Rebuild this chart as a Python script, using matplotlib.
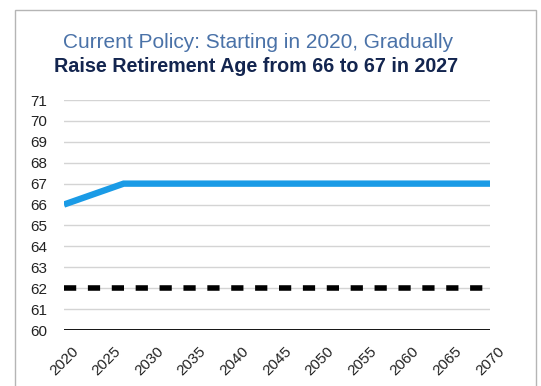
import matplotlib.pyplot as plt
from matplotlib.patches import Rectangle

# retirement age under current policy
policy_years = [2020, 2027, 2070]
policy_age = [66, 67, 67]

# early eligibility age
early_years = [2020, 2070]
early_age = [62, 62]

year_ticks = list(range(2020, 2071, 5))
age_ticks = list(range(60, 72))

plt.rcParams['font.family'] = ['Liberation Sans', 'DejaVu Sans']

fig = plt.figure(figsize=(5.41, 3.86), dpi=100)

# light frame around the whole chart
fig.patches.append(Rectangle((15 / 541, -0.05), (536 - 15) / 541, 1.05 - 10 / 386,
                             transform=fig.transFigure, fill=False,
                             edgecolor='#b5b5b5', linewidth=1.0))

ax = fig.add_axes([64 / 541, 1 - 330 / 386, (490 - 64) / 541, (330 - 100) / 386])

for a in age_ticks[1:]:
    ax.axhline(a, color='#d4d4d4', linewidth=1.0, zorder=1)
ax.axhline(60, color='black', linewidth=1.3, zorder=2)

ax.plot(early_years, early_age, color='black', linewidth=4.0,
        linestyle=(0, (2.2, 2.1)), dash_capstyle='butt', zorder=3)
ax.plot(policy_years, policy_age, color='#1a9be6', linewidth=4.6,
        solid_joinstyle='miter', solid_capstyle='butt', zorder=4)

ax.set_xlim(2020, 2070)
ax.set_ylim(60, 71)
ax.set_xticks(year_ticks)
ax.set_yticks(age_ticks)
ax.tick_params(axis='both', length=0, labelsize=11, colors='#222222')
ax.tick_params(axis='y', pad=12)
ax.tick_params(axis='x', pad=10)
for lbl in ax.get_xticklabels():
    lbl.set_rotation(45)
    lbl.set_ha('center')
    lbl.set_va('top')
for s in ax.spines.values():
    s.set_visible(False)

fig.text(258 / 541, 1 - 42 / 386, 'Current Policy: Starting in 2020, Gradually',
         ha='center', va='center', fontsize=15, color='#4a72a8')
fig.text(256 / 541, 1 - 66 / 386, 'Raise Retirement Age from 66 to 67 in 2027',
         ha='center', va='center', fontsize=14.2, fontweight='bold', color='#13254f')

fig.savefig('out.png', dpi=100)
